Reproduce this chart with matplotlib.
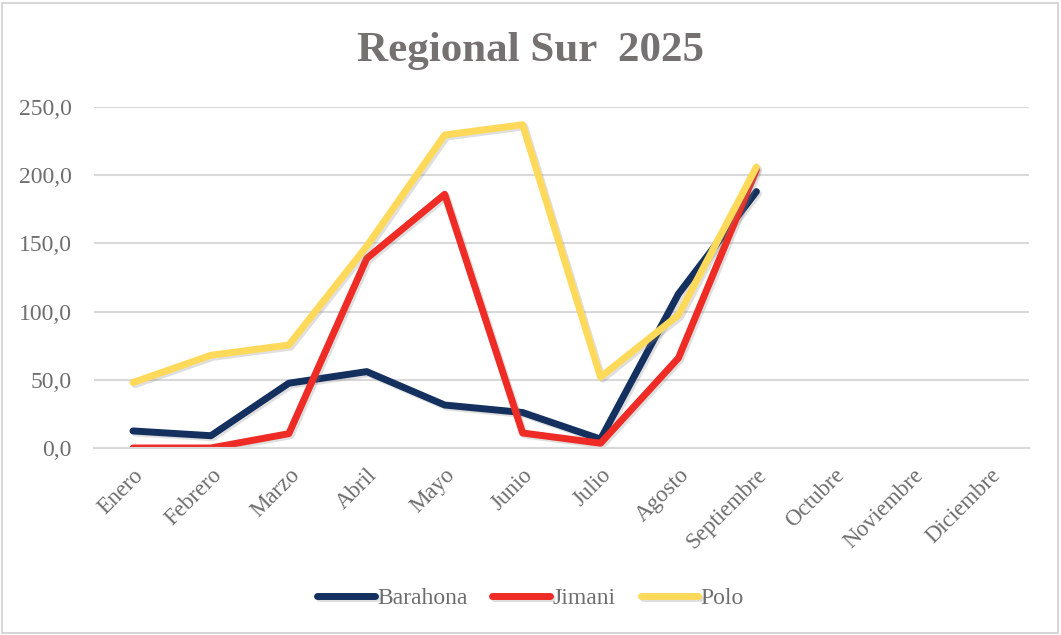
import matplotlib.pyplot as plt
import matplotlib.patheffects as pe
from matplotlib.patches import Rectangle

meses = ["Enero", "Febrero", "Marzo", "Abril", "Mayo", "Junio", "Julio",
         "Agosto", "Septiembre", "Octubre", "Noviembre", "Diciembre"]

barahona = [12.5, 9.0, 47.5, 56.0, 31.5, 26.0, 6.5, 113.0, 188.0]
jimani = [0.0, 0.0, 10.5, 139.0, 186.0, 11.0, 3.5, 66.0, 204.0]
polo = [48.0, 68.0, 75.5, 148.0, 229.5, 237.0, 52.0, 97.5, 206.0]

yticks = [0, 50, 100, 150, 200, 250]

gris = "#6e6e6e"
plt.rcParams['font.family'] = ['Liberation Serif', 'DejaVu Serif']

fig = plt.figure(figsize=(10.61, 6.35), dpi=100)
ax = fig.add_axes([0.0886, 0.2945, 0.8814, 0.537])

sombra = [pe.SimpleLineShadow(offset=(1.5, -1.5), alpha=0.25, shadow_color="gray"), pe.Normal()]
ax.plot(range(len(barahona)), barahona, color="#14305f", lw=5, label="Barahona",
        solid_capstyle="round", path_effects=sombra)
ax.plot(range(len(jimani)), jimani, color="#ee2b24", lw=5, label="Jimani",
        solid_capstyle="round", path_effects=sombra)
ax.plot(range(len(polo)), polo, color="#ffd95a", lw=5, label="Polo",
        solid_capstyle="round", path_effects=sombra)

ax.set_xlim(-0.5, len(meses) - 0.5)
ax.set_ylim(0, 250)
ax.set_xticks(range(len(meses)))
ax.set_xticklabels(meses, rotation=45, ha="right", rotation_mode="anchor",
                   fontsize=16.5, color=gris)
ax.set_yticks(yticks)
ax.set_yticklabels([f"{v:.1f}".replace(".", ",") for v in yticks], fontsize=17, color=gris)
ax.tick_params(axis="x", length=0, pad=12)
ax.tick_params(axis="y", length=0, pad=16)
ax.grid(axis="y", color="#d9d9d9", lw=1.5)
ax.set_axisbelow(True)
for s in ["top", "right", "left"]:
    ax.spines[s].set_visible(False)
ax.spines["bottom"].set_color("#d9d9d9")
ax.spines["bottom"].set_linewidth(1.5)

fig.text(0.5, 0.92, "Regional Sur  2025", ha="center", va="center",
         fontsize=31, fontweight="bold", color="#767171")

ley = fig.legend(loc="center", bbox_to_anchor=(0.5, 0.058), ncol=3, frameon=False,
                 fontsize=17, handlelength=2.45, handletextpad=0.1, columnspacing=1.05)
for t in ley.get_texts():
    t.set_color(gris)

fig.patches.append(Rectangle((0.002, 0.003), 0.995, 0.993, transform=fig.transFigure,
                             fill=False, edgecolor="#d0d0d0", lw=1.2))

fig.savefig("out.png", dpi=100)
